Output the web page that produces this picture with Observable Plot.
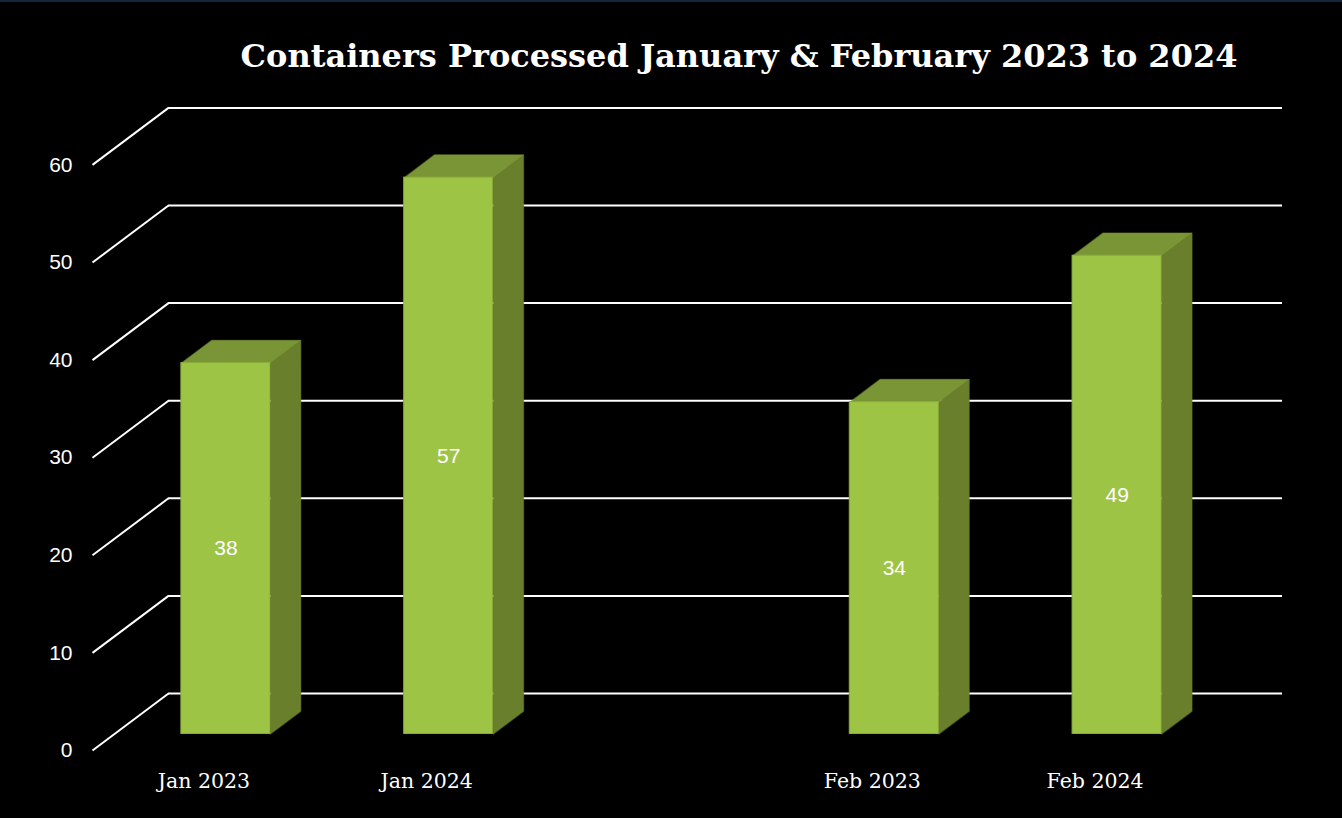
<!DOCTYPE html>
<html><head><meta charset="utf-8">
<script src="https://cdn.jsdelivr.net/npm/d3@7"></script>
<script src="https://cdn.jsdelivr.net/npm/@observablehq/plot@0.6"></script>
<style>
html,body{margin:0;padding:0;background:#000;}
body{width:1342px;height:818px;position:relative;overflow:hidden;}
#topline{position:absolute;left:0;top:0;width:1342px;height:2px;background:#13283c;}
#title{position:absolute;left:0;width:1342px;top:35px;text-align:center;padding-left:136px;box-sizing:border-box;
  font-family:"DejaVu Serif",serif;font-weight:bold;font-size:32px;color:#fff;line-height:42px;white-space:nowrap;}
#chart{position:absolute;left:0;top:0;}
</style></head><body>
<div id="chart"></div>
<div id="topline"></div>
<div id="title">Containers Processed January &amp; February 2023 to 2024</div>
<script>
// Data
const categories = ["Jan 2023", "Jan 2024", "Feb 2023", "Feb 2024"];
const values = [38, 57, 34, 49];
const yTicks = [0, 10, 20, 30, 40, 50, 60];

// Layout (3D projection constants)
const X0 = 92, X1 = 1206, Y0 = 750, Y60 = 164.4;
const kx = (X1 - X0) / 5, ky = (Y0 - Y60) / 60;
const du = 76 / kx, dv = 57 / ky;           // full floor depth in data units
const f1 = 0.29, f2 = 0.69;                 // bar front/back depth fraction
const w = 0.4;                               // bar width (slot units)
const slot = i => i + (i >= 2 ? 1 : 0);     // gap between January and February

const bars = categories.map((c, i) => {
  const cx = slot(i) + 0.5 + f1 * du;
  return {c, v: values[i], x1: cx - w / 2, x2: cx + w / 2, cx, y0: f1 * dv, y1: values[i] + f1 * dv};
});
const ddx = (f2 - f1) * du, ddy = (f2 - f1) * dv;
const sides = bars.flatMap(b => [
  {id: b.c, x: b.x2, y: b.y0}, {id: b.c, x: b.x2, y: b.y1},
  {id: b.c, x: b.x2 + ddx, y: b.y1 + ddy}, {id: b.c, x: b.x2 + ddx, y: b.y0 + ddy}
]);
const tops = bars.flatMap(b => [
  {id: b.c, x: b.x1, y: b.y1}, {id: b.c, x: b.x2, y: b.y1},
  {id: b.c, x: b.x2 + ddx, y: b.y1 + ddy}, {id: b.c, x: b.x1 + ddx, y: b.y1 + ddy}
]);

const chart = Plot.plot({
  width: 1342, height: 818,
  marginTop: 0, marginRight: 0, marginBottom: 0, marginLeft: 0,
  style: {background: "#000"},
  x: {type: "linear", domain: [0, 5], range: [X0, X1], axis: null},
  y: {type: "linear", domain: [0, 60], range: [Y0, Y60], axis: null},
  marks: [
    Plot.ruleY(yTicks, {y: d => d + dv, x1: du, x2: 5 + du, stroke: "#fff", strokeWidth: 2}),
    Plot.link(yTicks, {x1: 0, y1: d => d, x2: du, y2: d => d + dv, stroke: "#fff", strokeWidth: 2}),
    Plot.line(sides, {x: "x", y: "y", z: "id", fill: "#6a7f2c", stroke: "#6a7f2c", strokeWidth: 0.5, curve: "linear-closed"}),
    Plot.line(tops, {x: "x", y: "y", z: "id", fill: "#7a9536", stroke: "#7a9536", strokeWidth: 0.5, curve: "linear-closed"}),
    Plot.rect(bars, {x1: "x1", x2: "x2", y1: "y0", y2: "y1", fill: "#9ec446", stroke: "#8aae3a", strokeWidth: 1}),
    Plot.text(bars, {x: "cx", y: d => d.v / 2 + f1 * dv, text: d => String(d.v), fill: "#fff", fontSize: 21, fontFamily: "Liberation Sans, Arial, sans-serif"}),
    Plot.text(yTicks, {x: 0, y: d => d, dx: -20, text: d => String(d), textAnchor: "end", fill: "#fff", fontSize: 21, fontFamily: "Liberation Sans, Arial, sans-serif"}),
    Plot.text(categories, {x: (d, i) => slot(i) + 0.5, y: 0, dy: 31, text: d => d, fill: "#fff", fontSize: 20.5, fontFamily: "DejaVu Serif, serif"})
  ]
});
document.getElementById("chart").appendChild(chart);
</script>
</body></html>
